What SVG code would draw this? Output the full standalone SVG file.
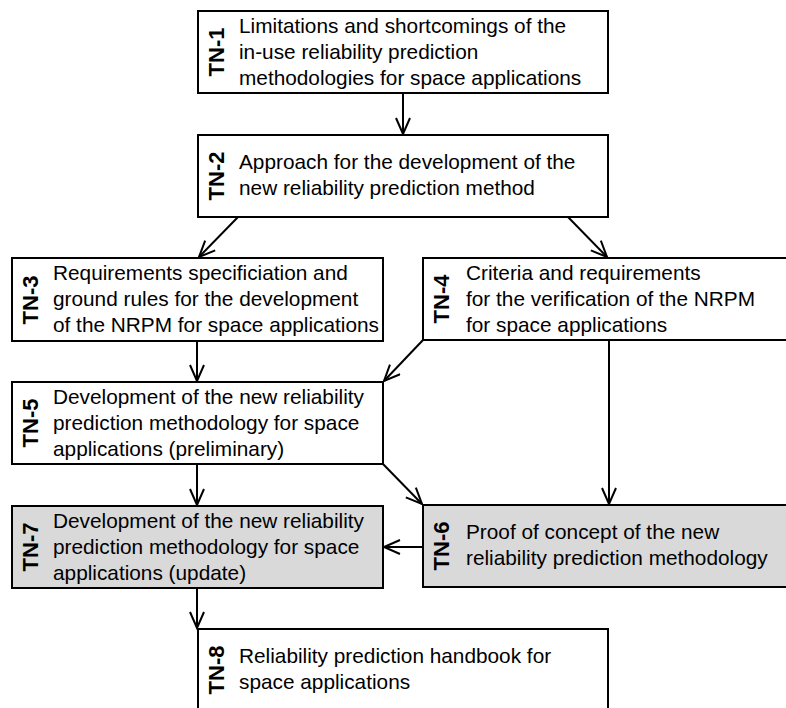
<svg xmlns="http://www.w3.org/2000/svg" width="786" height="708" viewBox="0 0 786 708">
<style>
.box{fill:#ffffff;stroke:#000000;stroke-width:2}
.grey{fill:#d9d9d9}
.t{font-family:"Liberation Sans",Arial,sans-serif;font-size:20.8px;fill:#000000}
.lbl{font-family:"Liberation Sans",Arial,sans-serif;font-size:22px;font-weight:bold;fill:#000000;text-anchor:middle}
.conn{fill:none;stroke:#000000;stroke-width:2}
</style>
<defs>
<marker id="arr" markerUnits="userSpaceOnUse" markerWidth="20" markerHeight="18" refX="17" refY="8" orient="auto">
<path d="M1,1 L17,8 L1,15" fill="none" stroke="#000000" stroke-width="2"/>
</marker>
</defs>
<rect width="786" height="708" fill="#ffffff"/>
<g id="connectors">
<line class="conn" x1="403" y1="93" x2="403" y2="134" marker-end="url(#arr)"/>
<line class="conn" x1="238" y1="217" x2="199" y2="257" marker-end="url(#arr)"/>
<line class="conn" x1="568" y1="217" x2="607" y2="257" marker-end="url(#arr)"/>
<line class="conn" x1="197" y1="341" x2="197" y2="381" marker-end="url(#arr)"/>
<line class="conn" x1="423" y1="340" x2="384" y2="381" marker-end="url(#arr)"/>
<line class="conn" x1="609" y1="340" x2="609" y2="504" marker-end="url(#arr)"/>
<line class="conn" x1="383" y1="464" x2="422" y2="504" marker-end="url(#arr)"/>
<line class="conn" x1="197" y1="464" x2="197" y2="505" marker-end="url(#arr)"/>
<line class="conn" x1="423" y1="547" x2="384" y2="547" marker-end="url(#arr)"/>
<line class="conn" x1="197" y1="588" x2="197" y2="628" marker-end="url(#arr)"/>
</g>
<g id="tn1">
<rect class="box" x="198" y="11" width="410" height="82"/>
<text class="lbl" transform="translate(224,52) rotate(-90)">TN-1</text>
<text class="t" x="239" y="33">Limitations and shortcomings of the</text>
<text class="t" x="239" y="59">in-use reliability prediction</text>
<text class="t" x="239" y="85">methodologies for space applications</text>
</g>
<g id="tn2">
<rect class="box" x="198" y="135" width="410" height="82"/>
<text class="lbl" transform="translate(224,176) rotate(-90)">TN-2</text>
<text class="t" x="239" y="169">Approach for the development of the</text>
<text class="t" x="239" y="195">new reliability prediction method</text>
</g>
<g id="tn3">
<rect class="box" x="12" y="258" width="371" height="83"/>
<text class="lbl" transform="translate(38,300) rotate(-90)">TN-3</text>
<text class="t" x="53" y="280">Requirements specificiation and</text>
<text class="t" x="53" y="306">ground rules for the development</text>
<text class="t" x="53" y="332">of the NRPM for space applications</text>
</g>
<g id="tn4">
<rect class="box" x="423" y="258" width="380" height="82"/>
<text class="lbl" transform="translate(449,299) rotate(-90)">TN-4</text>
<text class="t" x="466" y="280">Criteria and requirements</text>
<text class="t" x="466" y="306">for the verification of the NRPM</text>
<text class="t" x="466" y="332">for space applications</text>
</g>
<g id="tn5">
<rect class="box" x="12" y="382" width="371" height="82"/>
<text class="lbl" transform="translate(38,423) rotate(-90)">TN-5</text>
<text class="t" x="53" y="404">Development of the new reliability</text>
<text class="t" x="53" y="430">prediction methodology for space</text>
<text class="t" x="53" y="456">applications (preliminary)</text>
</g>
<g id="tn6">
<rect class="box grey" x="423" y="505" width="380" height="82"/>
<text class="lbl" transform="translate(449,546) rotate(-90)">TN-6</text>
<text class="t" x="466" y="539">Proof of concept of the new</text>
<text class="t" x="466" y="565">reliability prediction methodology</text>
</g>
<g id="tn7">
<rect class="box grey" x="12" y="506" width="371" height="82"/>
<text class="lbl" transform="translate(38,547) rotate(-90)">TN-7</text>
<text class="t" x="53" y="528">Development of the new reliability</text>
<text class="t" x="53" y="554">prediction methodology for space</text>
<text class="t" x="53" y="580">applications (update)</text>
</g>
<g id="tn8">
<rect class="box" x="198" y="629" width="410" height="82"/>
<text class="lbl" transform="translate(224,670) rotate(-90)">TN-8</text>
<text class="t" x="239" y="663">Reliability prediction handbook for</text>
<text class="t" x="239" y="689">space applications</text>
</g>
</svg>
